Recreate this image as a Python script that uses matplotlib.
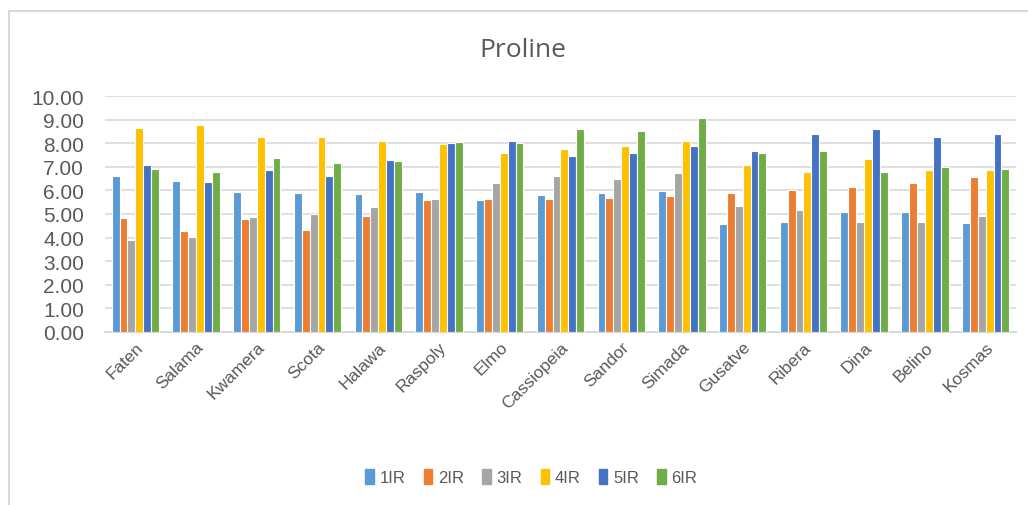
import numpy as np
import matplotlib.pyplot as plt
from matplotlib.lines import Line2D

cultivars = ["Faten", "Salama", "Kwamera", "Scota", "Halawa", "Raspoly", "Elmo",
             "Cassiopeia", "Sandor", "Simada", "Gusatve", "Ribera", "Dina",
             "Belino", "Kosmas"]
series = ["1IR", "2IR", "3IR", "4IR", "5IR", "6IR"]

ir1 = [6.62, 6.41, 5.94, 5.90, 5.86, 5.94, 5.61, 5.79, 5.91, 5.96, 4.56, 4.65, 5.07, 5.10, 4.60]
ir2 = [4.84, 4.26, 4.77, 4.31, 4.91, 5.61, 5.64, 5.64, 5.69, 5.78, 5.87, 6.02, 6.15, 6.30, 6.56]
ir3 = [3.89, 4.02, 4.86, 4.99, 5.31, 5.64, 6.31, 6.62, 6.47, 6.73, 5.34, 5.15, 4.68, 4.64, 4.90]
ir4 = [8.65, 8.78, 8.26, 8.26, 8.10, 7.95, 7.58, 7.74, 7.89, 8.10, 7.06, 6.79, 7.31, 6.87, 6.87]
ir5 = [7.06, 6.37, 6.86, 6.63, 7.30, 7.99, 8.10, 7.44, 7.58, 7.90, 7.68, 8.40, 8.61, 8.27, 8.41]
ir6 = [6.89, 6.76, 7.37, 7.14, 7.23, 8.06, 8.02, 8.61, 8.52, 9.05, 7.58, 7.68, 6.76, 6.99, 6.89]
values = [ir1, ir2, ir3, ir4, ir5, ir6]

colors = ["#5B9BD5", "#ED7D31", "#A5A5A5", "#FFC000", "#4472C4", "#70AD47"]
txt = "#595959"
grid = "#D9D9D9"

plt.rcParams["font.family"] = ["Liberation Sans", "DejaVu Sans"]

fig = plt.figure(figsize=(10.28, 5.06), dpi=100)
ax = fig.add_axes([0.1021, 0.3419, 0.8862, 0.4664])

x = np.arange(len(cultivars))
w = 0.13
for i, (name, vals) in enumerate(zip(series, values)):
    ax.bar(x + (i - 2.5) * w, vals, w, color=colors[i], edgecolor="white",
           linewidth=0.8, label=name, zorder=3)

ax.set_xlim(-0.5, len(cultivars) - 0.5)
ax.set_ylim(0, 10)
ax.set_yticks(np.arange(0, 11, 1))
ax.set_yticklabels([f"{v:.2f}" for v in range(11)])
ax.yaxis.grid(True, color=grid, linewidth=1.2, zorder=0)
for s in ["top", "right", "left"]:
    ax.spines[s].set_visible(False)
ax.spines["bottom"].set_color(grid)
ax.spines["bottom"].set_linewidth(1.5)
ax.tick_params(axis="y", length=0, pad=15, labelsize=15, labelcolor=txt)
ax.tick_params(axis="x", length=0, pad=5, labelsize=12.5, labelcolor=txt)
ax.set_xticks(x)
ax.set_xticklabels(cultivars, rotation=45, ha="right", rotation_mode="anchor")

fig.text(0.509, 0.901, "Proline", ha="center", va="center", fontsize=19,
         color=txt, family="Open Sans")

handles = [plt.Rectangle((0, 0), 1, 1, color=c) for c in colors]
fig.legend(handles, series, loc="center", bbox_to_anchor=(0.517, 0.055), ncol=6,
           frameon=False, fontsize=12, labelcolor=txt, handlelength=0.5,
           handleheight=1.0, handletextpad=0.35, columnspacing=1.1)

# chart frame
fig.add_artist(Line2D([0.0085, 0.0085], [0, 0.976], color=grid, linewidth=1.5))
fig.add_artist(Line2D([0.0085, 1.0], [0.976, 0.976], color=grid, linewidth=1.5))

fig.savefig("out.png", dpi=100)
